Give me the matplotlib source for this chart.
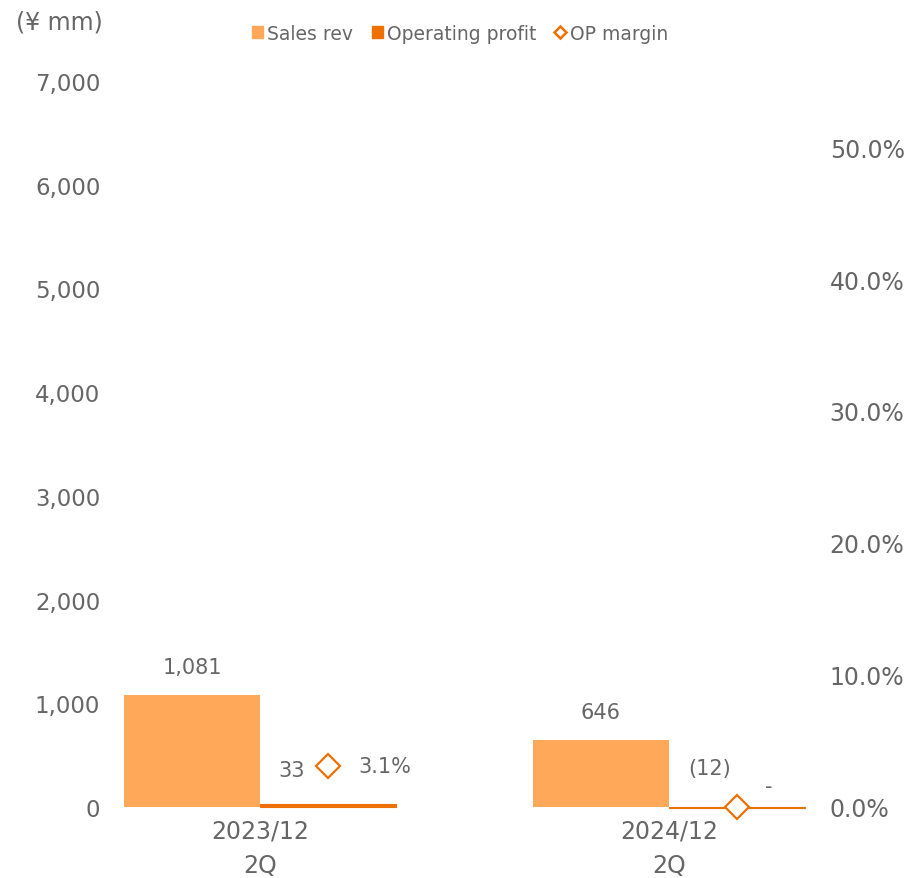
import numpy as np
import matplotlib
matplotlib.use('Agg')
import matplotlib.pyplot as plt
from matplotlib.patches import Patch
from matplotlib.lines import Line2D

# ── data ──
periods     = ['2023/12\n2Q', '2024/12\n2Q']
sales_rev   = [1081, 646]
op_profit   = [33, -12]
op_margin   = [3.1, 0.0]          # %
sales_lbls  = ['1,081', '646']
op_lbls     = ['33', '(12)']
margin_lbls = ['3.1%', '-']
left_ticks  = [0, 1000, 2000, 3000, 4000, 5000, 6000, 7000]
right_ticks = [0, 10, 20, 30, 40, 50]

# ── style ──
C_SALES = '#FFA85A'
C_OP    = '#EE7000'
C_TEXT  = '#666666'
plt.rcParams['font.family'] = ['DejaVu Sans']

fig = plt.figure(figsize=(9.09, 8.79), dpi=100)
ax = fig.add_axes([0.121, 0.0808, 0.781, 0.8259])
ax2 = ax.twinx()

x = np.arange(len(periods))
w = 0.333

ax.bar(x - w / 2, sales_rev, width=w, color=C_SALES, zorder=2)
op_bars = ax.bar(x + w / 2, op_profit, width=w, color=C_OP, edgecolor=C_OP,
                 linewidth=0.8, zorder=2)
for b in op_bars:
    b.set_clip_on(False)   # keep the small negative bar visible

ax.set_xlim(-0.367, 1.369)
ax.set_ylim(0, 7000)
ax.set_yticks(left_ticks)
ax.set_yticklabels([f'{v:,}' for v in left_ticks])
ax.set_xticks(x)
ax.set_xticklabels(periods, linespacing=1.55)

ax2.set_ylim(0, 55)
ax2.set_yticks(right_ticks)
ax2.set_yticklabels([f'{v:.1f}%' for v in right_ticks])

ax2.plot(x + w / 2, op_margin, linestyle='none', marker='D', markersize=12,
         markerfacecolor='white', markeredgecolor=C_OP, markeredgewidth=1.6,
         zorder=5, clip_on=False)

for a in (ax, ax2):
    for s in a.spines.values():
        s.set_visible(False)
    a.tick_params(length=0, colors=C_TEXT, labelsize=16.5)
ax.tick_params(axis='y', pad=7)
ax2.tick_params(axis='y', pad=7, labelsize=17)
ax.tick_params(axis='x', pad=8, labelsize=17)

# data labels
for i in range(len(periods)):
    ax.annotate(sales_lbls[i], (x[i] - w / 2, sales_rev[i]), xytext=(0, 20),
                textcoords='offset points', ha='center', va='center',
                fontsize=15, color=C_TEXT)
    ax.annotate(op_lbls[i], (x[i] + w / 2, max(op_profit[i], 0)),
                xytext=(-26 if i == 0 else -20, 24 if i == 0 else 28),
                textcoords='offset points', ha='center', va='center',
                fontsize=15, color=C_TEXT)
    ax2.annotate(margin_lbls[i], (x[i] + w / 2, op_margin[i]),
                 xytext=(41 if i == 0 else 23, 0 if i == 0 else 15),
                 textcoords='offset points', ha='center', va='center',
                 fontsize=15, color=C_TEXT)

fig.text(0.065, 0.974, '(¥ mm)', ha='center', va='center',
         fontsize=17, color=C_TEXT)

handles = [Patch(color=C_SALES), Patch(color=C_OP),
           Line2D([], [], linestyle='none', marker='D', markersize=6,
                  markerfacecolor='white', markeredgecolor=C_OP,
                  markeredgewidth=1.8)]
leg = fig.legend(handles, ['Sales rev', 'Operating profit', 'OP margin'],
                 loc='center', bbox_to_anchor=(0.506, 0.961), ncol=3,
                 frameon=False, fontsize=13.5, handlelength=0.6,
                 handleheight=0.6, handletextpad=0.2, columnspacing=1.0)
for t in leg.get_texts():
    t.set_color(C_TEXT)

fig.savefig('out.png', dpi=100)
